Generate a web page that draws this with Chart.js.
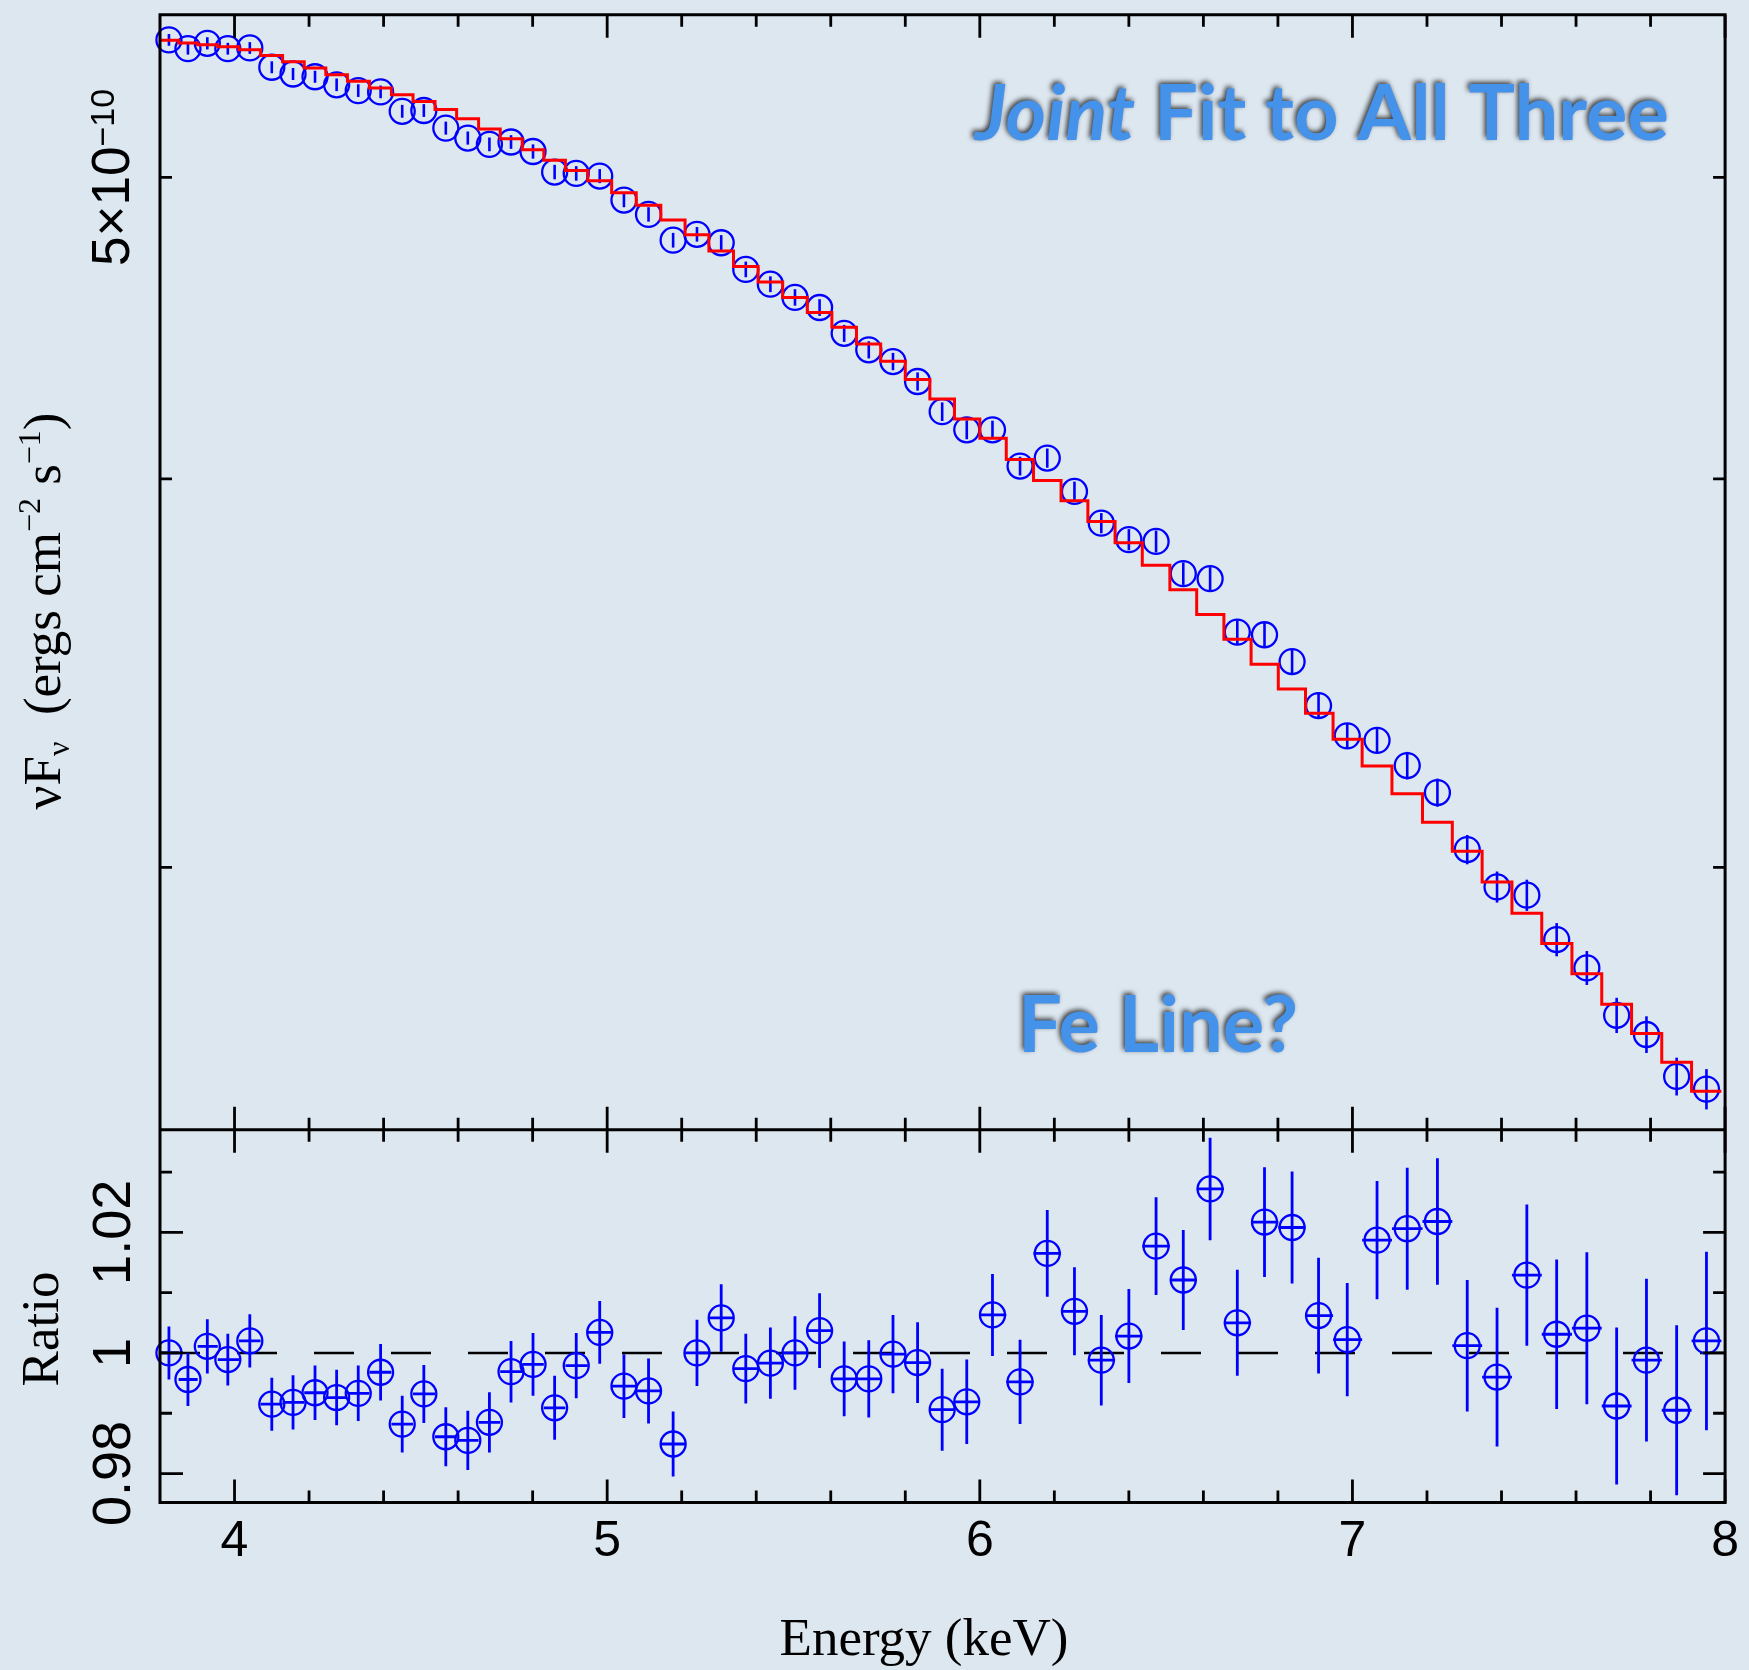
<!DOCTYPE html>
<html>
<head>
<meta charset="utf-8">
<script src="https://cdn.jsdelivr.net/npm/chart.js@4.4.1/dist/chart.umd.min.js"></script>
<style>
html,body{margin:0;padding:0;background:#dde7f0;}
canvas{display:block;}
</style>
</head>
<body>
<canvas id="c" width="1749" height="1670" style="width:1749px;height:1670px"></canvas>
<script>
// ---------------- DATA ----------------
// bin centres (keV)
const energy = [
  3.824, 3.875, 3.927, 3.982, 4.041, 4.100, 4.157, 4.216, 4.274, 4.332,
  4.392, 4.450, 4.508, 4.567, 4.626, 4.684, 4.742, 4.801, 4.859, 4.917,
  4.980, 5.045, 5.111, 5.177, 5.241, 5.306, 5.372, 5.438, 5.504, 5.570,
  5.636, 5.702, 5.767, 5.833, 5.899, 5.965, 6.034, 6.108, 6.181, 6.254,
  6.326, 6.400, 6.473, 6.546, 6.618, 6.691, 6.764, 6.838, 6.909, 6.986,
  7.066, 7.147, 7.228, 7.308, 7.388, 7.468, 7.548, 7.629, 7.709, 7.789,
  7.870, 7.950
];
// bin edges (keV)
const binEdges = [
  3.800, 3.850, 3.901, 3.955, 4.012, 4.070, 4.129, 4.187, 4.245, 4.303,
  4.362, 4.421, 4.479, 4.538, 4.596, 4.655, 4.713, 4.772, 4.830, 4.888,
  4.948, 5.012, 5.078, 5.144, 5.209, 5.273, 5.339, 5.405, 5.471, 5.537,
  5.603, 5.669, 5.734, 5.800, 5.866, 5.932, 6.000, 6.071, 6.144, 6.218,
  6.290, 6.363, 6.436, 6.510, 6.582, 6.655, 6.728, 6.801, 6.874, 6.948,
  7.026, 7.106, 7.188, 7.268, 7.348, 7.428, 7.508, 7.589, 7.669, 7.749,
  7.830, 7.910, 7.990
];
// nuFnu data, units of 1e-10 ergs cm^-2 s^-1
const flux = [
  5.536, 5.500, 5.522, 5.500, 5.503, 5.425, 5.398, 5.387, 5.355, 5.332,
  5.327, 5.251, 5.254, 5.186, 5.148, 5.124, 5.133, 5.097, 5.020, 5.015,
  5.005, 4.917, 4.865, 4.773, 4.794, 4.764, 4.671, 4.620, 4.575, 4.541,
  4.455, 4.401, 4.363, 4.299, 4.204, 4.148, 4.148, 4.038, 4.062, 3.963,
  3.871, 3.824, 3.819, 3.729, 3.715, 3.571, 3.564, 3.494, 3.382, 3.307,
  3.296, 3.235, 3.171, 3.040, 2.957, 2.939, 2.844, 2.785, 2.689, 2.651,
  2.570, 2.546
];
const fluxErr = [
  0.024, 0.024, 0.025, 0.024, 0.024, 0.024, 0.024, 0.024, 0.025, 0.025,
  0.025, 0.025, 0.025, 0.025, 0.025, 0.026, 0.026, 0.027, 0.027, 0.027,
  0.026, 0.026, 0.026, 0.026, 0.026, 0.027, 0.027, 0.027, 0.028, 0.028,
  0.028, 0.028, 0.028, 0.029, 0.029, 0.029, 0.028, 0.028, 0.029, 0.029,
  0.029, 0.030, 0.031, 0.031, 0.032, 0.031, 0.032, 0.032, 0.032, 0.031,
  0.032, 0.033, 0.033, 0.033, 0.034, 0.034, 0.035, 0.035, 0.035, 0.036,
  0.036, 0.038
];
// model (red histogram), units of 1e-10
const model = [
  5.535, 5.523, 5.516, 5.508, 5.496, 5.472, 5.447, 5.422, 5.395, 5.369,
  5.342, 5.316, 5.289, 5.258, 5.222, 5.183, 5.145, 5.104, 5.064, 5.026,
  4.988, 4.944, 4.898, 4.845, 4.792, 4.735, 4.681, 4.628, 4.575, 4.524,
  4.475, 4.420, 4.364, 4.305, 4.244, 4.181, 4.122, 4.058, 3.995, 3.936,
  3.876, 3.815, 3.752, 3.685, 3.618, 3.552, 3.487, 3.424, 3.363, 3.299,
  3.234, 3.168, 3.102, 3.036, 2.968, 2.900, 2.836, 2.773, 2.711, 2.653,
  2.597, 2.542
];
// data / model ratio
const ratio = [
  1.0000, 0.9956, 1.0011, 0.9989, 1.0020, 0.9915, 0.9918, 0.9934, 0.9926, 0.9933,
  0.9968, 0.9882, 0.9932, 0.9861, 0.9855, 0.9885, 0.9969, 0.9981, 0.9909, 0.9979,
  1.0034, 0.9945, 0.9937, 0.9849, 1.0000, 1.0058, 0.9974, 0.9983, 1.0000, 1.0037,
  0.9957, 0.9957, 0.9998, 0.9984, 0.9906, 0.9919, 1.0063, 0.9952, 1.0165, 1.0069,
  0.9988, 1.0028, 1.0177, 1.0121, 1.0272, 1.0050, 1.0217, 1.0208, 1.0062, 1.0022,
  1.0187, 1.0206, 1.0218, 1.0012, 0.9960, 1.0129, 1.0031, 1.0041, 0.9912, 0.9988,
  0.9905, 1.0020
];
const ratioErr = [
  0.0044, 0.0044, 0.0045, 0.0043, 0.0044, 0.0044, 0.0045, 0.0045, 0.0046, 0.0046,
  0.0047, 0.0047, 0.0048, 0.0049, 0.0049, 0.0050, 0.0051, 0.0052, 0.0053, 0.0054,
  0.0052, 0.0053, 0.0054, 0.0054, 0.0055, 0.0056, 0.0058, 0.0059, 0.0061, 0.0062,
  0.0062, 0.0064, 0.0065, 0.0067, 0.0068, 0.0070, 0.0068, 0.0070, 0.0072, 0.0073,
  0.0075, 0.0078, 0.0081, 0.0083, 0.0085, 0.0088, 0.0091, 0.0093, 0.0096, 0.0094,
  0.0098, 0.0101, 0.0105, 0.0109, 0.0115, 0.0117, 0.0124, 0.0126, 0.0130, 0.0135,
  0.0141, 0.0148
];
const unityLine = [1, 1];

// axes / ticks
const xRange = [3.8, 8];
const xMajorTicks = [4, 5, 6, 7, 8];
const xTickLabels = ['4', '5', '6', '7', '8'];
const xMinorTicks = [4.2, 4.4, 4.6, 4.8, 5.2, 5.4, 5.6, 5.8, 6.2, 6.4, 6.6, 6.8, 7.2, 7.4, 7.6, 7.8];
const fluxRange = [2.4704, 5.6398];
const fluxTicks = [3, 4, 5];
const fluxLabelTick = 5;
const ratioRange = [0.9752, 1.0370];
const ratioMajorTicks = [0.98, 1, 1.02];
const ratioTickLabels = ['0.98', '1', '1.02'];
const ratioMinorTicks = [0.99, 1.01, 1.03];

const xTitle = 'Energy (keV)';
const ratioTitle = 'Ratio';
const annot1a = 'Joint';
const annot1b = ' Fit to All Three';
const annot2 = 'Fe Line?';

// ---------------- STYLE ----------------
const BG = '#dde7f0';
const BLUE = '#0000ff';
const RED = '#ff0000';
const ANN = '#4592ea';
const SANS = '"Liberation Sans", Arial, Helvetica, sans-serif';
const SERIF = '"Liberation Serif", "Times New Roman", serif';
const ANNFONT = 'Lato, "Open Sans", sans-serif';

// ---------------- BUILD TABLES ----------------
const fluxPts = energy.map((e, i) => ({x: e, y: flux[i]}));
const ratioPts = energy.map((e, i) => ({x: e, y: ratio[i]}));
const modelSteps = [];
model.forEach((m, i) => { modelSteps.push({x: binEdges[i], y: m}); modelSteps.push({x: binEdges[i + 1], y: m}); });
const unityPts = [{x: xRange[0], y: unityLine[0]}, {x: xRange[1], y: unityLine[1]}];

// ---------------- PLUGINS ----------------
const bgPlugin = {
  id: 'bg',
  beforeDraw(chart) {
    const g = chart.ctx;
    g.save(); g.fillStyle = BG; g.fillRect(0, 0, chart.width, chart.height); g.restore();
  }
};

const errorBars = {
  id: 'errorBars',
  beforeDatasetDraw(chart, args) {
    const g = chart.ctx, xs = chart.scales.x;
    if (args.index === 1) {
      const ys = chart.scales.y;
      g.save(); g.strokeStyle = BLUE; g.lineWidth = 2.6; g.lineCap = 'butt';
      energy.forEach((e, i) => {
        const px = xs.getPixelForValue(e);
        g.beginPath();
        g.moveTo(px, ys.getPixelForValue(flux[i] - fluxErr[i]));
        g.lineTo(px, ys.getPixelForValue(flux[i] + fluxErr[i]));
        g.stroke();
      });
      g.restore();
    }
    if (args.index === 2) {
      const ys = chart.scales.y2;
      g.save(); g.strokeStyle = BLUE; g.lineWidth = 2.8; g.lineCap = 'butt';
      energy.forEach((e, i) => {
        const px = xs.getPixelForValue(e), py = ys.getPixelForValue(ratio[i]);
        g.beginPath();
        g.moveTo(px, ys.getPixelForValue(ratio[i] - ratioErr[i]));
        g.lineTo(px, ys.getPixelForValue(ratio[i] + ratioErr[i]));
        g.moveTo(xs.getPixelForValue(binEdges[i]), py);
        g.lineTo(xs.getPixelForValue(binEdges[i + 1]), py);
        g.stroke();
      });
      g.restore();
    }
  }
};

function rotatedRuns(g, xb, yc, runs) {
  let total = 0;
  runs.forEach(r => { g.font = r.font; r.w = g.measureText(r.text).width; total += r.w; });
  g.save();
  g.translate(xb, yc); g.rotate(-Math.PI / 2);
  g.textAlign = 'left'; g.textBaseline = 'alphabetic'; g.fillStyle = '#000';
  let x = -total / 2;
  runs.forEach(r => { g.font = r.font; g.fillText(r.text, x, -(r.dy || 0)); x += r.w; });
  g.restore();
}

function fittedRuns(g, xLeft, xRight, baseline, runs) {
  let total = 0;
  runs.forEach(r => { g.font = r.font; r.w = g.measureText(r.text).width; total += r.w; });
  const s = (xRight - xLeft) / total;
  g.save();
  g.translate(xLeft, baseline); g.scale(s, 1);
  g.textAlign = 'left'; g.textBaseline = 'alphabetic';
  g.shadowColor = 'rgba(0,0,0,0.75)'; g.shadowBlur = 5; g.shadowOffsetX = -2; g.shadowOffsetY = -2;
  g.fillStyle = ANN;
  let x = 0;
  runs.forEach(r => { g.font = r.font; g.fillText(r.text, x, 0); x += r.w; });
  g.restore();
}

const framePlugin = {
  id: 'frame',
  afterDraw(chart) {
    const g = chart.ctx, xs = chart.scales.x, ys = chart.scales.y, rs = chart.scales.y2;
    const L = xs.left, R = xs.right, T = ys.top, M = ys.bottom, B = rs.bottom;
    g.save();
    g.strokeStyle = '#000'; g.lineWidth = 3; g.lineCap = 'butt';
    // frame
    g.beginPath();
    g.rect(L, T, R - L, B - T);
    g.moveTo(L, M); g.lineTo(R, M);
    g.stroke();
    // x ticks
    g.lineWidth = 2.8;
    const xt = (v, len) => {
      const p = xs.getPixelForValue(v);
      g.beginPath();
      g.moveTo(p, T); g.lineTo(p, T + len);
      g.moveTo(p, M - len); g.lineTo(p, M + len);
      g.moveTo(p, B); g.lineTo(p, B - len);
      g.stroke();
    };
    xMajorTicks.forEach(v => xt(v, 23));
    xMinorTicks.forEach(v => xt(v, 12));
    // flux ticks (log, minor only)
    fluxTicks.forEach(v => {
      const p = ys.getPixelForValue(v);
      g.beginPath(); g.moveTo(L, p); g.lineTo(L + 12, p); g.moveTo(R, p); g.lineTo(R - 12, p); g.stroke();
    });
    // ratio ticks
    ratioMajorTicks.forEach(v => {
      const p = rs.getPixelForValue(v);
      g.beginPath(); g.moveTo(L, p); g.lineTo(L + 23, p); g.moveTo(R, p); g.lineTo(R - 22, p); g.stroke();
    });
    ratioMinorTicks.forEach(v => {
      const p = rs.getPixelForValue(v);
      g.beginPath(); g.moveTo(L, p); g.lineTo(L + 12, p); g.moveTo(R, p); g.lineTo(R - 12, p); g.stroke();
    });
    g.restore();

    // y tick labels (rotated)
    const big = '53px ' + SANS, small = '34px ' + SANS;
    rotatedRuns(g, 129, ys.getPixelForValue(fluxLabelTick), [
      {text: '5×10', font: big},
      {text: '−10', font: small, dy: 15}
    ]);
    ratioMajorTicks.forEach((v, i) => {
      rotatedRuns(g, 129.5, rs.getPixelForValue(v), [{text: ratioTickLabels[i], font: '54px ' + SANS}]);
    });

    // axis titles
    const tf = '53px ' + SERIF, tfs = '32px ' + SERIF;
    rotatedRuns(g, 58, 1329, [{text: ratioTitle, font: tf}]);
    rotatedRuns(g, 60, 611, [
      {text: 'νF', font: tf},
      {text: 'ν', font: tfs, dy: -9},
      {text: '  (ergs cm', font: tf},
      {text: '−2', font: tfs, dy: 20},
      {text: ' s', font: tf},
      {text: '−1', font: tfs, dy: 20},
      {text: ')', font: tf}
    ]);
    g.save();
    g.font = tf; g.fillStyle = '#000'; g.textAlign = 'center'; g.textBaseline = 'alphabetic';
    g.fillText(xTitle, 924, 1655);
    g.restore();

    // annotations
    fittedRuns(g, 975, 1669, 139.5, [
      {text: annot1a, font: 'italic bold 77px ' + ANNFONT},
      {text: annot1b, font: 'bold 77px ' + ANNFONT}
    ]);
    fittedRuns(g, 1018, 1298, 1051.5, [{text: annot2, font: 'bold 78px ' + ANNFONT}]);
  }
};

// ---------------- CHART ----------------
const chart = new Chart(document.getElementById('c').getContext('2d'), {
  type: 'scatter',
  data: {
    datasets: [
      {
        label: 'Model', data: modelSteps, yAxisID: 'y', showLine: true,
        borderColor: RED, borderWidth: 3, pointRadius: 0, fill: false, tension: 0, clip: false
      },
      {
        label: 'Data', data: fluxPts, yAxisID: 'y', showLine: false,
        pointStyle: 'circle', pointRadius: 12.5, pointBorderWidth: 2.3,
        borderColor: BLUE, backgroundColor: 'rgba(0,0,0,0)', clip: false
      },
      {
        label: 'Ratio', data: ratioPts, yAxisID: 'y2', showLine: false,
        pointStyle: 'circle', pointRadius: 12.5, pointBorderWidth: 2.3,
        borderColor: BLUE, backgroundColor: 'rgba(0,0,0,0)', clip: false
      },
      {
        label: 'Unity', data: unityPts, yAxisID: 'y2', showLine: true,
        borderColor: '#000', borderWidth: 2.6, borderDash: [40, 37], pointRadius: 0, fill: false
      }
    ]
  },
  options: {
    responsive: false, animation: false, devicePixelRatio: 1,
    layout: {padding: {top: 11.5, right: 20, left: 0, bottom: 0}},
    plugins: {legend: {display: false}, tooltip: {enabled: false}},
    scales: {
      x: {
        type: 'linear', position: 'bottom', min: xRange[0], max: xRange[1],
        grid: {display: false, drawTicks: false}, border: {display: false},
        ticks: {
          autoSkip: false, maxRotation: 0, minRotation: 0, padding: 10, color: '#000',
          font: {family: SANS, size: 50},
          callback: (v) => { const i = xMajorTicks.indexOf(v); return i >= 0 ? xTickLabels[i] : ''; }
        },
        afterBuildTicks: (s) => { s.ticks = xMajorTicks.map(v => ({value: v})); },
        afterFit: (s) => { s.height = 167.5; }
      },
      y2: {
        type: 'linear', position: 'left', min: ratioRange[0], max: ratioRange[1],
        stack: 'panels', stackWeight: 373.5, offset: false,
        grid: {display: false, drawTicks: false}, border: {display: false},
        ticks: {display: false},
        afterFit: (s) => { s.width = 160; }
      },
      y: {
        type: 'logarithmic', position: 'left', min: fluxRange[0], max: fluxRange[1],
        stack: 'panels', stackWeight: 1117.5,
        grid: {display: false, drawTicks: false}, border: {display: false},
        ticks: {display: false},
        afterFit: (s) => { s.width = 160; }
      }
    }
  },
  plugins: [bgPlugin, errorBars, framePlugin]
});
</script>
</body>
</html>
